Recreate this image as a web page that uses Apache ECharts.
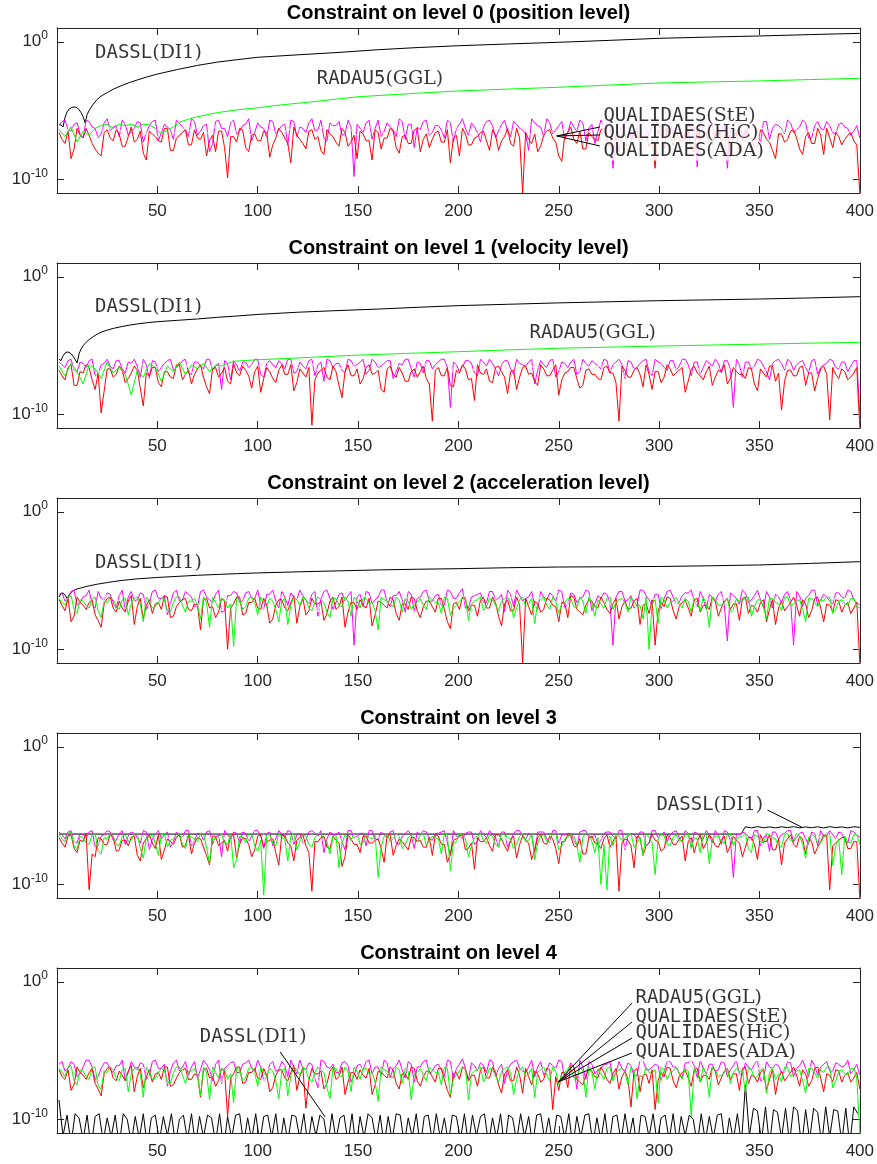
<!DOCTYPE html>
<html><head><meta charset="utf-8">
<script src="https://cdn.jsdelivr.net/npm/echarts@6/dist/echarts.min.js"></script>
<style>html,body{margin:0;padding:0;background:#fff}#c{width:877px;height:1164px}</style>
</head><body><div id="c"></div>
<script>
// ================= DATA =================
const titles = [
  'Constraint on level 0 (position level)',
  'Constraint on level 1 (velocity level)',
  'Constraint on level 2 (acceleration level)',
  'Constraint on level 3',
  'Constraint on level 4'
];
const yTickValues = [1e-10, 1];
const yMin = 1e-11, yMax = 10;
const xMin = 0, xMax = 400, xInterval = 50;

// sample positions of the noisy error curves (two interleaved sets: A = 1,4,7,...  B = 2.5,5.5,...)
const xSamples = []; for (let x = 1; x <= 400; x += 3) xSamples.push(x);
const xSamplesB = []; for (let x = 2.5; x <= 399; x += 3) xSamplesB.push(x);
// sample positions (every 2nd step) of the DASSL error on level 4
const xSamples2 = []; for (let x = 1; x <= 399; x += 2) xSamples2.push(x);

// ---- DASSL(DI1) : log10 of error ----
const dasslX = [1,2,3,4,5,6,7,8,9,10,11,12,13,14,15,16,18,20,22,25,28,32,36,40,45,50,60,70,80,90,100,120,140,160,180,200,225,250,275,300,325,350,375,400];
const p0Dassl = [-6.0,-6.05,-6.2,-5.5,-5.1,-4.9,-4.8,-4.75,-4.75,-4.8,-4.95,-5.15,-5.45,-5.9,-5.3,-5.0,-4.55,-4.2,-3.95,-3.7,-3.45,-3.2,-2.97,-2.78,-2.55,-2.35,-2.02,-1.72,-1.48,-1.3,-1.13,-0.95,-0.78,-0.58,-0.42,-0.29,-0.16,-0.04,0.1,0.25,0.34,0.42,0.52,0.61];
const p1Dassl = [-6.0,-6.1,-5.75,-5.55,-5.47,-5.5,-5.6,-5.78,-6.0,-6.27,-5.6,-5.25,-5.02,-4.85,-4.7,-4.57,-4.36,-4.18,-4.03,-3.88,-3.76,-3.63,-3.52,-3.43,-3.34,-3.27,-3.17,-3.07,-2.95,-2.85,-2.74,-2.58,-2.46,-2.35,-2.22,-2.1,-2.0,-1.9,-1.82,-1.74,-1.68,-1.62,-1.54,-1.45];
const p2Dassl = [-6.2,-5.95,-5.9,-6.05,-6.3,-6.05,-5.85,-5.75,-5.68,-5.62,-5.58,-5.54,-5.5,-5.46,-5.42,-5.39,-5.33,-5.27,-5.22,-5.15,-5.08,-5.0,-4.94,-4.88,-4.83,-4.78,-4.7,-4.62,-4.56,-4.5,-4.45,-4.37,-4.3,-4.23,-4.18,-4.14,-4.07,-4.02,-4.0,-3.98,-3.93,-3.87,-3.76,-3.63];
const p3DasslX = [1,50,100,150,200,250,300,341,342,343,346,349,352,355,358,361,364,367,370,373,376,379,382,385,388,391,394,397,400];
const p3Dassl = [-6.35,-6.35,-6.35,-6.35,-6.35,-6.35,-6.35,-6.35,-6.05,-5.82,-5.9,-5.81,-5.89,-5.83,-5.9,-5.82,-5.88,-5.81,-5.9,-5.83,-5.89,-5.82,-5.9,-5.81,-5.88,-5.83,-5.9,-5.82,-5.86];
// level 4 DASSL (tenths of a decade)
const p4Dassl = [
 -86,-112,-97,-118,-96,-99,-115,-97,-121,-98,-96,-116,-99,-113,-97,-119,-96,-100,-117,-98,
 -114,-96,-120,-99,-97,-116,-98,-112,-96,-118,-100,-97,-115,-96,-119,-98,-113,-97,-99,-117,
 -96,-121,-98,-114,-97,-96,-118,-99,-115,-96,-117,-98,-97,-113,-96,-120,-99,-116,-97,-98,
 -114,-96,-119,-98,-112,-97,-100,-118,-96,-115,-99,-97,-117,-96,-121,-98,-113,-96,-99,-116,
 -97,-119,-98,-115,-96,-97,-118,-99,-113,-96,-120,-98,-97,-116,-96,-114,-99,-117,-97,-98,
 -115,-96,-119,-97,-112,-98,-96,-118,-99,-114,-96,-121,-97,-99,-116,-96,-113,-98,-119,-97,
 -96,-115,-99,-117,-97,-98,-114,-96,-120,-98,-113,-97,-96,-118,-99,-115,-96,-119,-98,-97,
 -116,-96,-114,-99,-121,-97,-98,-113,-96,-117,-99,-97,-115,-96,-119,-98,-112,-97,-100,-118,
 -96,-116,-98,-114,-97,-96,-120,-99,-115,-96,-118,-75,-112,-92,-94,-116,-91,-119,-93,-95,
 -114,-92,-117,-91,-94,-120,-93,-115,-92,-95,-118,-91,-113,-93,-94,-117,-92,-119,-91,-96];

// ---- RADAU5(GGL) : log10 of error ----
const p0RadauX = [1,4,7,10,13,16,19,22,25,28,31,34,37,40,43,46,49,52,55,58,61,65,70,75,80,90,100,110,125,150,175,200,225,250,275,300,325,350,375,400];
const p0Radau = [-6.4,-6.9,-6.2,-7.3,-6.5,-6.8,-6.3,-6.1,-6.0,-6.3,-6.0,-6.1,-6.0,-6.2,-6.0,-6.05,-6.3,-6.7,-6.4,-6.2,-5.85,-5.65,-5.45,-5.3,-5.15,-4.95,-4.8,-4.62,-4.4,-4.0,-3.78,-3.58,-3.44,-3.31,-3.15,-3.0,-2.92,-2.85,-2.75,-2.66];
const p1RadauX = [1,4,7,10,13,16,19,22,25,28,31,34,37,40,43,46,49,52,55,58,61,64,67,70,73,76,79,82,85,88,95,100,110,121,135,150,175,200,225,250,275,300,325,350,375,400];
const p1Radau = [-6.5,-7.2,-6.3,-6.9,-7.8,-6.4,-6.7,-7.4,-6.2,-7.0,-6.6,-7.1,-8.6,-6.8,-7.3,-6.3,-6.6,-7.6,-6.5,-6.9,-6.2,-7.1,-6.4,-6.7,-6.3,-6.9,-6.4,-6.5,-6.3,-6.15,-6.08,-6.04,-5.97,-5.9,-5.8,-5.7,-5.57,-5.45,-5.32,-5.2,-5.12,-5.04,-4.97,-4.9,-4.83,-4.77];
// levels 2-4 RADAU5 (tenths of a decade), set A on xSamples, set B on xSamplesB
const p2Radau = [-63,-68,-61,-74,-65,-70,-62,-77,-66,-64,-71,-63,-67,-62,-80,-65,-69,-63,-72,-66,-62,-73,-65,-68,-62,-84,-66,-63,-70,-98,-64,-69,-62,-75,-66,-63,-71,-65,-82,-62,-68,-64,-72,-62,-66,-77,-63,-69,-65,-62,-70,-63,-66,-86,-64,-68,-62,-73,-65,-67,-63,-71,-64,-66,-62,-75,-68,-63,-79,-65,-62,-69,-64,-72,-63,-66,-70,-62,-67,-81,-64,-68,-62,-74,-66,-63,-70,-65,-62,-76,-67,-63,-71,-64,-66,-62,-69,-78,-100,-64,-62,-70,-65,-67,-63,-73,-66,-62,-84,-64,-68,-63,-71,-65,-62,-76,-64,-69,-63,-66,-72,-62,-67,-64,-80,-63,-69,-65,-62,-71,-64,-68,-63,-70];
const p2RadauB = [-66,-62,-71,-64,-68,-63,-72,-65,-62,-69,-64,-75,-63,-67,-62,-70,-66,-64,-73,-62,-68,-65,-63,-78,-66,-62,-70,-64,-67,-63,-71,-63,-66,-62,-69,-65,-80,-63,-68,-64,-62,-70,-66,-64,-73,-63,-68,-62,-76,-65,-63,-67,-72,-62,-65,-69,-64,-63,-71,-66,-68,-62,-66,-74,-63,-70,-65,-62,-67,-64,-72,-63,-68,-65,-62,-77,-64,-69,-63,-66,-62,-71,-65,-67,-63,-69,-62,-74,-66,-64,-70,-62,-66,-63,-73,-65,-68,-62,-67,-81,-64,-66,-62,-70,-65,-63,-72,-67,-62,-68,-66,-73,-63,-65,-62,-69,-64,-78,-63,-67,-62,-68,-65,-71,-63,-66,-64,-62,-74,-65,-67,-63,-69];
const p3Radau = [-64,-69,-62,-75,-66,-71,-63,-78,-67,-65,-72,-64,-68,-63,-81,-66,-70,-64,-73,-67,-63,-74,-66,-69,-63,-85,-67,-64,-71,-88,-65,-70,-63,-76,-108,-64,-72,-66,-83,-63,-69,-65,-73,-63,-67,-78,-64,-70,-66,-63,-71,-64,-67,-95,-65,-69,-63,-74,-66,-68,-64,-72,-65,-67,-63,-90,-69,-64,-80,-66,-63,-70,-65,-73,-64,-67,-71,-63,-68,-82,-65,-69,-63,-75,-67,-64,-71,-66,-63,-77,-100,-104,-72,-65,-67,-63,-70,-79,-66,-93,-63,-71,-66,-68,-64,-74,-67,-63,-85,-65,-69,-64,-72,-66,-63,-77,-65,-70,-64,-67,-73,-63,-68,-65,-81,-64,-70,-66,-63,-72,-93,-69,-64,-71];
const p3RadauB = [-67,-63,-72,-65,-70,-64,-76,-66,-63,-71,-65,-69,-63,-74,-66,-64,-79,-63,-68,-65,-71,-64,-67,-63,-73,-66,-65,-70,-63,-82,-66,-63,-72,-68,-64,-70,-63,-67,-65,-75,-64,-71,-66,-63,-69,-65,-88,-64,-68,-63,-70,-66,-64,-73,-63,-67,-65,-71,-64,-69,-63,-68,-66,-78,-64,-70,-63,-67,-72,-65,-68,-64,-71,-63,-66,-74,-65,-69,-63,-70,-64,-67,-63,-72,-66,-65,-84,-63,-69,-66,-71,-65,-63,-68,-64,-73,-66,-63,-70,-67,-65,-72,-64,-69,-63,-66,-77,-64,-68,-65,-70,-63,-67,-65,-74,-64,-69,-63,-66,-72,-64,-68,-63,-71,-66,-65,-70,-63,-86,-67,-65,-70,-64];
const p4Radau = [-63,-69,-61,-75,-65,-71,-62,-78,-66,-64,-72,-63,-67,-62,-84,-65,-70,-63,-73,-66,-62,-74,-65,-68,-62,-86,-66,-63,-71,-88,-64,-70,-62,-76,-66,-63,-72,-65,-83,-62,-68,-64,-73,-62,-66,-85,-63,-69,-65,-62,-71,-63,-66,-87,-64,-68,-62,-74,-65,-67,-63,-72,-64,-66,-62,-82,-68,-63,-86,-65,-62,-69,-64,-73,-63,-66,-71,-62,-67,-84,-64,-68,-62,-75,-66,-63,-71,-65,-62,-78,-67,-63,-72,-64,-66,-62,-85,-70,-66,-64,-62,-71,-65,-67,-63,-98,-66,-62,-84,-64,-68,-63,-66,-65,-80,-64,-69,-63,-66,-71,-73,-62,-67,-64,-81,-63,-70,-66,-62,-72,-64,-68,-63,-110];
const p4RadauB = [-66,-62,-72,-64,-69,-63,-76,-65,-62,-70,-64,-80,-63,-67,-62,-71,-66,-64,-74,-62,-68,-65,-63,-83,-66,-62,-70,-64,-67,-63,-72,-63,-66,-62,-69,-65,-85,-63,-68,-64,-62,-71,-66,-64,-77,-63,-68,-62,-80,-65,-63,-67,-73,-62,-65,-70,-64,-63,-86,-66,-68,-62,-66,-75,-63,-71,-65,-62,-67,-64,-73,-63,-68,-65,-62,-82,-64,-69,-63,-66,-62,-72,-65,-67,-63,-70,-62,-84,-66,-64,-71,-62,-66,-63,-75,-65,-68,-62,-67,-88,-64,-66,-62,-71,-65,-63,-73,-67,-62,-69,-66,-74,-63,-65,-62,-70,-64,-81,-63,-67,-62,-69,-65,-72,-63,-66,-64,-62,-77,-65,-67,-63,-70];

// ---- QUALIDAES(StE) (tenths of a decade) ----
const p0StE = [-61,-57,-65,-59,-70,-58,-63,-67,-56,-62,-69,-60,-65,-58,-73,-61,-57,-66,-62,-71,-59,-64,-56,-68,-61,-80,-58,-63,-69,-57,-65,-60,-72,-59,-63,-57,-67,-61,-75,-58,-62,-66,-56,-64,-70,-59,-61,-68,-57,-98,-63,-59,-71,-57,-65,-62,-69,-58,-60,-77,-64,-57,-66,-61,-70,-59,-63,-56,-68,-62,-73,-58,-61,-65,-57,-69,-60,-64,-79,-59,-62,-56,-67,-61,-71,-58,-65,-59,-63,-74,-57,-63,-92,-66,-58,-70,-62,-59,-68,-57,-64,-61,-67,-59,-72,-63,-91,-65,-60,-69,-66,-92,-62,-56,-69,-61,-65,-58,-71,-60,-63,-57,-66,-62,-59,-70,-58,-64,-61,-67,-59,-63,-65,-70];
const p0StEB = [-58,-64,-60,-67,-57,-62,-70,-59,-65,-61,-57,-68,-63,-59,-66,-58,-72,-60,-64,-57,-62,-69,-58,-65,-60,-74,-57,-63,-59,-67,-61,-56,-66,-62,-70,-58,-64,-60,-57,-69,-63,-59,-65,-57,-72,-61,-58,-67,-62,-60,-66,-57,-63,-69,-59,-64,-56,-71,-60,-62,-58,-68,-61,-64,-57,-73,-60,-63,-59,-66,-62,-57,-70,-60,-65,-58,-63,-67,-56,-61,-69,-59,-64,-58,-66,-62,-57,-72,-60,-65,-61,-58,-67,-63,-59,-70,-57,-64,-62,-60,-66,-58,-63,-71,-59,-62,-57,-68,-61,-64,-59,-65,-57,-69,-62,-60,-74,-58,-63,-61,-67,-59,-64,-57,-70,-61,-63,-58,-66,-60,-62,-68,-61];
const p1StE = [-62,-66,-60,-69,-63,-61,-72,-64,-60,-67,-61,-70,-63,-65,-60,-74,-62,-66,-61,-68,-64,-60,-71,-62,-67,-60,-65,-82,-63,-61,-69,-62,-64,-60,-73,-61,-66,-63,-60,-70,-62,-67,-60,-64,-76,-61,-63,-68,-60,-65,-62,-71,-60,-66,-63,-61,-69,-64,-60,-73,-63,-61,-67,-62,-60,-95,-64,-66,-61,-70,-60,-65,-63,-72,-61,-67,-60,-64,-62,-78,-61,-66,-60,-69,-63,-62,-71,-60,-65,-63,-67,-61,-64,-60,-74,-62,-66,-61,-69,-60,-63,-68,-61,-65,-60,-72,-62,-66,-63,-60,-70,-61,-95,-64,-62,-67,-60,-65,-75,-61,-63,-60,-68,-62,-66,-61,-71,-64,-60,-66,-62,-69,-61,-100];
const p1StEB = [-64,-61,-68,-62,-66,-60,-71,-63,-65,-61,-67,-62,-60,-73,-64,-61,-69,-63,-60,-66,-61,-70,-62,-65,-60,-68,-63,-61,-75,-64,-62,-66,-60,-71,-63,-64,-61,-67,-60,-69,-65,-61,-72,-62,-60,-66,-63,-70,-61,-64,-60,-68,-62,-65,-61,-74,-63,-60,-67,-62,-70,-61,-64,-60,-66,-62,-69,-61,-63,-72,-62,-60,-67,-64,-61,-71,-63,-65,-60,-68,-64,-61,-73,-62,-66,-60,-69,-63,-61,-65,-60,-70,-62,-64,-61,-67,-63,-60,-72,-62,-66,-61,-68,-60,-64,-62,-71,-61,-65,-63,-61,-67,-60,-73,-62,-65,-61,-69,-63,-60,-68,-62,-64,-61,-70,-60,-66,-63,-61,-67,-62,-65,-61];
const p2StE = [-60,-65,-58,-68,-62,-57,-70,-63,-59,-66,-61,-72,-58,-64,-60,-67,-57,-63,-75,-59,-65,-58,-62,-69,-57,-64,-60,-73,-61,-58,-66,-59,-63,-57,-71,-60,-65,-58,-68,-62,-57,-64,-60,-76,-58,-63,-66,-59,-61,-97,-60,-58,-67,-62,-57,-69,-61,-64,-58,-72,-62,-57,-65,-60,-68,-58,-63,-56,-70,-61,-59,-66,-58,-63,-73,-60,-57,-65,-62,-68,-58,-64,-61,-57,-70,-59,-66,-62,-58,-67,-63,-60,-97,-58,-65,-61,-68,-57,-64,-60,-71,-58,-62,-66,-59,-57,-69,-63,-60,-65,-58,-94,-61,-67,-59,-64,-57,-70,-62,-60,-66,-58,-97,-61,-63,-57,-68,-60,-65,-59,-62,-57,-64,-68];
const p2StEB = [-59,-63,-57,-66,-61,-68,-58,-64,-60,-70,-57,-62,-65,-59,-71,-58,-63,-61,-67,-57,-64,-60,-69,-58,-62,-66,-57,-72,-61,-59,-65,-58,-63,-68,-60,-57,-70,-62,-59,-64,-61,-67,-58,-63,-57,-71,-60,-65,-58,-62,-69,-59,-64,-57,-66,-61,-58,-73,-60,-63,-58,-65,-61,-68,-57,-63,-59,-70,-62,-60,-66,-58,-64,-60,-57,-69,-61,-63,-58,-71,-62,-59,-65,-58,-67,-60,-63,-57,-72,-61,-59,-66,-62,-58,-64,-70,-57,-61,-68,-60,-63,-57,-67,-61,-59,-65,-58,-71,-62,-60,-68,-59,-63,-57,-66,-61,-64,-58,-70,-62,-60,-65,-58,-69,-61,-57,-64,-62,-67,-59,-63,-58,-66];
const p3StE = [-62,-67,-61,-70,-64,-62,-73,-65,-61,-68,-63,-71,-62,-66,-61,-75,-64,-67,-62,-69,-65,-61,-72,-63,-68,-61,-66,-80,-64,-62,-70,-63,-65,-61,-74,-62,-67,-64,-61,-71,-63,-68,-61,-65,-77,-62,-64,-69,-61,-66,-63,-72,-61,-67,-64,-62,-70,-65,-61,-74,-64,-62,-68,-63,-61,-79,-65,-67,-62,-71,-61,-66,-64,-73,-62,-68,-61,-65,-63,-77,-62,-67,-61,-70,-64,-63,-72,-61,-66,-64,-68,-62,-65,-61,-75,-63,-67,-62,-70,-61,-64,-69,-62,-66,-61,-73,-63,-67,-64,-61,-71,-62,-95,-65,-63,-68,-61,-66,-76,-62,-64,-61,-69,-63,-67,-62,-72,-65,-61,-67,-63,-70,-62,-66];
const p3StEB = [-64,-62,-69,-63,-66,-61,-72,-64,-62,-68,-61,-65,-63,-70,-62,-67,-61,-64,-73,-62,-66,-61,-68,-63,-62,-71,-64,-61,-67,-63,-62,-69,-61,-65,-63,-72,-61,-66,-62,-64,-70,-62,-63,-61,-67,-64,-62,-75,-61,-65,-63,-61,-68,-62,-66,-61,-71,-63,-64,-62,-61,-67,-63,-62,-70,-61,-65,-63,-62,-69,-64,-61,-66,-62,-73,-63,-61,-67,-64,-62,-62,-70,-61,-64,-63,-68,-62,-61,-66,-71,-63,-62,-67,-61,-65,-64,-62,-72,-61,-66,-62,-64,-61,-69,-63,-62,-66,-61,-70,-64,-61,-68,-63,-62,-65,-61,-72,-64,-62,-67,-63,-61,-66,-62,-71,-63,-61,-65,-64,-62,-68,-61,-64];
const p4StE = [-60,-65,-58,-69,-62,-57,-71,-63,-59,-66,-61,-72,-58,-64,-60,-68,-57,-63,-76,-59,-65,-58,-62,-70,-57,-64,-60,-74,-61,-58,-66,-59,-63,-57,-72,-60,-65,-58,-69,-62,-57,-64,-60,-77,-58,-63,-66,-59,-61,-68,-60,-58,-67,-62,-57,-70,-61,-64,-58,-73,-62,-57,-65,-60,-69,-58,-63,-56,-71,-61,-59,-66,-58,-63,-74,-60,-57,-65,-62,-69,-58,-64,-61,-57,-71,-59,-78,-62,-58,-67,-63,-60,-70,-58,-65,-61,-68,-57,-64,-60,-72,-58,-62,-66,-59,-57,-70,-63,-60,-65,-58,-69,-61,-67,-59,-64,-57,-71,-62,-60,-66,-58,-69,-61,-63,-57,-68,-60,-65,-59,-62,-57,-64,-68];
const p4StEB = [-58,-63,-60,-67,-57,-62,-69,-59,-64,-61,-57,-66,-62,-59,-71,-58,-63,-60,-65,-57,-62,-68,-58,-64,-60,-72,-57,-63,-59,-66,-60,-57,-65,-62,-69,-58,-64,-61,-57,-67,-63,-59,-70,-57,-62,-60,-66,-58,-73,-61,-64,-57,-62,-68,-59,-63,-57,-70,-60,-62,-58,-67,-61,-64,-57,-71,-60,-63,-59,-65,-61,-57,-69,-60,-64,-58,-63,-66,-57,-62,-68,-59,-63,-58,-65,-62,-57,-71,-60,-64,-60,-58,-66,-63,-59,-69,-57,-64,-62,-61,-65,-58,-62,-70,-59,-61,-57,-67,-60,-64,-59,-64,-57,-68,-62,-60,-72,-58,-63,-61,-66,-59,-63,-57,-69,-61,-62,-58,-65,-60,-61,-67,-60];

// ---- QUALIDAES(HiC) (tenths of a decade), on xSamples ----
const p0HiC = [-64,-68,-61,-70,-66,-63,-72,-65,-60,-67,-63,-71,-66,-62,-69,-64,-74,-61,-67,-65,-70,-62,-66,-73,-63,-68,-61,-65,-71,-64,-67,-62,-69,-65,-76,-63,-66,-70,-62,-68,-64,-71,-63,-67,-61,-69,-65,-73,-62,-66,-70,-64,-62,-68,-66,-63,-72,-65,-69,-61,-67,-63,-70,-64,-66,-74,-62,-68,-65,-71,-63,-69,-66,-61,-70,-64,-67,-62,-68,-65,-72,-63,-66,-69,-62,-67,-64,-71,-65,-63,-68,-62,-70,-65,-67,-63,-69,-64,-66,-72,-62,-67,-65,-70,-63,-68,-64,-66,-71,-62,-69,-65,-63,-67,-72,-64,-68,-62,-66,-70,-64,-68,-63,-71,-65,-67,-62,-69,-66,-64,-70,-65,-67,-110];
const p1HiC = [-65,-69,-63,-71,-66,-64,-73,-67,-62,-70,-66,-72,-64,-68,-63,-75,-65,-69,-64,-71,-67,-63,-70,-65,-74,-64,-68,-62,-71,-66,-69,-64,-72,-66,-63,-70,-67,-73,-64,-68,-65,-71,-63,-69,-66,-74,-64,-67,-72,-63,-70,-65,-68,-64,-73,-66,-62,-71,-67,-65,-69,-63,-72,-66,-68,-64,-75,-65,-70,-67,-63,-71,-66,-69,-64,-72,-67,-65,-70,-63,-68,-74,-64,-67,-71,-65,-69,-63,-72,-66,-65,-70,-67,-63,-73,-66,-68,-64,-71,-69,-64,-72,-66,-68,-63,-70,-65,-74,-67,-64,-71,-66,-69,-63,-72,-65,-68,-70,-64,-67,-69,-64,-73,-66,-65,-71,-63,-68,-70,-65,-67,-72,-64,-105];
const p2HiC = [-63,-67,-61,-70,-65,-62,-72,-66,-60,-68,-64,-71,-62,-67,-63,-69,-61,-66,-73,-63,-68,-62,-65,-70,-61,-67,-64,-72,-63,-66,-69,-62,-66,-64,-71,-63,-67,-61,-70,-65,-62,-68,-64,-73,-61,-66,-69,-63,-65,-70,-63,-61,-68,-65,-62,-71,-64,-67,-62,-74,-65,-61,-69,-63,-70,-62,-66,-60,-72,-64,-62,-68,-61,-66,-74,-63,-60,-67,-65,-70,-61,-67,-64,-60,-71,-62,-68,-65,-61,-69,-66,-63,-70,-61,-67,-64,-71,-62,-66,-63,-72,-61,-65,-68,-62,-60,-70,-66,-63,-67,-61,-69,-64,-68,-62,-66,-60,-72,-65,-63,-68,-61,-70,-64,-66,-60,-71,-63,-67,-62,-65,-61,-66,-110];
const p3HiC = [-66,-70,-64,-72,-67,-65,-74,-68,-64,-71,-67,-73,-65,-69,-64,-76,-66,-70,-65,-72,-68,-64,-71,-66,-75,-65,-69,-64,-72,-67,-70,-65,-73,-67,-64,-71,-68,-74,-65,-69,-66,-72,-64,-70,-67,-75,-65,-68,-73,-64,-71,-66,-69,-65,-74,-67,-64,-72,-68,-66,-70,-64,-73,-67,-69,-65,-76,-66,-71,-68,-64,-72,-67,-70,-65,-73,-68,-66,-71,-64,-69,-75,-65,-68,-72,-66,-70,-64,-73,-67,-66,-71,-68,-64,-74,-67,-69,-65,-72,-70,-65,-73,-67,-69,-64,-71,-66,-75,-68,-65,-72,-67,-70,-64,-73,-66,-69,-71,-65,-68,-70,-65,-74,-67,-66,-72,-64,-69,-71,-66,-68,-73,-65,-110];
const p4HiC = [-64,-68,-62,-71,-66,-63,-73,-67,-61,-69,-65,-72,-63,-68,-62,-70,-64,-67,-74,-63,-69,-62,-66,-71,-63,-68,-65,-73,-62,-67,-70,-63,-67,-64,-72,-62,-68,-61,-71,-66,-63,-69,-65,-74,-62,-67,-70,-64,-66,-71,-64,-62,-69,-66,-63,-72,-65,-68,-63,-75,-66,-62,-70,-64,-71,-63,-67,-61,-73,-65,-63,-69,-62,-67,-75,-64,-61,-68,-66,-71,-62,-68,-65,-61,-72,-63,-69,-66,-62,-70,-67,-64,-71,-62,-68,-65,-72,-63,-67,-64,-73,-62,-66,-69,-63,-61,-71,-67,-64,-68,-62,-70,-65,-69,-63,-67,-61,-73,-66,-64,-69,-62,-71,-65,-67,-61,-72,-64,-68,-63,-66,-62,-67,-70];

// ---- QUALIDAES(ADA) (tenths of a decade) ----
const p0ADA = [-66,-74,-85,-63,-70,-68,-78,-83,-64,-72,-67,-76,-62,-71,-81,-65,-69,-73,-63,-79,-68,-64,-75,-70,-66,-72,-80,-65,-99,-69,-63,-77,-68,-72,-65,-84,-70,-66,-74,-62,-71,-78,-64,-69,-82,-67,-73,-63,-76,-68,-65,-72,-86,-66,-70,-63,-77,-69,-74,-64,-80,-67,-71,-65,-73,-88,-68,-63,-75,-70,-66,-72,-64,-79,-69,-74,-63,-110,-71,-67,-76,-65,-70,-83,-68,-62,-74,-78,-66,-71,-64,-73,-69,-80,-67,-72,-65,-70,-76,-92,-68,-63,-75,-71,-66,-78,-64,-70,-73,-67,-72,-65,-69,-81,-64,-70,-76,-66,-73,-85,-67,-71,-64,-78,-69,-74,-63,-82,-70,-66,-75,-68,-72,-110];
const p0ADAB = [-71,-65,-78,-68,-63,-74,-81,-66,-70,-64,-76,-69,-73,-65,-86,-67,-72,-63,-79,-70,-66,-75,-64,-71,-83,-68,-65,-77,-69,-73,-64,-80,-67,-72,-66,-75,-63,-70,-88,-68,-74,-65,-71,-79,-64,-69,-76,-66,-73,-85,-67,-72,-64,-78,-70,-65,-81,-68,-74,-63,-71,-77,-66,-73,-64,-70,-83,-67,-75,-69,-65,-79,-68,-72,-63,-76,-70,-66,-74,-80,-68,-64,-73,-87,-66,-71,-65,-78,-69,-72,-63,-76,-70,-67,-82,-65,-74,-68,-71,-64,-78,-69,-66,-73,-65,-80,-71,-67,-75,-64,-70,-84,-66,-72,-68,-77,-64,-71,-79,-67,-73,-65,-70,-82,-66,-74,-68,-63,-77,-69,-71,-66,-75];
const p1ADA = [-68,-75,-64,-79,-70,-66,-82,-99,-67,-73,-65,-77,-70,-68,-94,-72,-66,-80,-69,-74,-64,-71,-78,-67,-73,-85,-66,-70,-76,-63,-72,-68,-81,-65,-74,-69,-77,-64,-71,-83,-67,-73,-108,-70,-66,-75,-69,-88,-64,-72,-78,-66,-71,-68,-84,-65,-73,-70,-76,-67,-69,-74,-105,-66,-72,-79,-68,-64,-75,-90,-70,-67,-77,-65,-73,-69,-82,-66,-71,-76,-64,-72,-68,-86,-70,-66,-74,-79,-67,-71,-75,-65,-70,-105,-68,-73,-66,-80,-71,-69,-77,-64,-72,-68,-84,-67,-70,-75,-65,-73,-69,-78,-66,-71,-74,-67,-83,-70,-65,-76,-97,-68,-72,-66,-79,-70,-74,-65,-104,-71,-67,-75,-70,-110];
const p1ADAB = [-72,-66,-79,-69,-64,-75,-70,-83,-67,-71,-68,-74,-65,-81,-70,-66,-77,-69,-73,-64,-75,-68,-71,-64,-80,-67,-73,-66,-78,-70,-65,-72,-69,-84,-66,-74,-68,-71,-64,-77,-70,-66,-75,-68,-73,-65,-79,-69,-72,-67,-74,-64,-70,-82,-67,-71,-66,-76,-69,-73,-65,-78,-68,-72,-66,-80,-70,-67,-74,-64,-71,-76,-66,-69,-85,-68,-73,-65,-70,-79,-67,-72,-64,-75,-69,-66,-81,-68,-71,-74,-66,-70,-77,-65,-73,-68,-71,-64,-82,-69,-73,-67,-70,-66,-76,-65,-72,-69,-79,-68,-64,-74,-69,-71,-66,-78,-67,-73,-65,-70,-76,-68,-72,-65,-70,-83,-67,-71,-66,-74,-69,-73,-66];
const p2ADA = [-64,-72,-80,-62,-68,-66,-75,-84,-63,-70,-65,-73,-61,-69,-78,-64,-67,-71,-62,-76,-66,-63,-72,-68,-64,-70,-77,-63,-100,-67,-62,-74,-66,-70,-63,-81,-68,-64,-72,-61,-69,-75,-63,-67,-79,-65,-71,-62,-73,-66,-64,-70,-83,-65,-68,-62,-74,-67,-71,-63,-77,-65,-69,-63,-71,-85,-66,-62,-72,-68,-64,-70,-62,-76,-67,-72,-62,-110,-69,-65,-73,-63,-68,-80,-66,-61,-71,-75,-64,-69,-62,-71,-67,-78,-65,-70,-63,-68,-74,-97,-66,-62,-72,-69,-64,-76,-63,-68,-71,-65,-70,-63,-67,-79,-62,-68,-73,-64,-71,-82,-65,-69,-62,-76,-67,-72,-62,-80,-68,-64,-73,-66,-70,-110];
const p2ADAB = [-68,-63,-76,-66,-71,-64,-79,-67,-62,-73,-70,-65,-82,-63,-68,-74,-66,-61,-77,-69,-64,-71,-67,-86,-63,-69,-73,-65,-70,-62,-75,-66,-63,-71,-68,-78,-64,-70,-66,-81,-63,-72,-67,-65,-74,-62,-69,-84,-66,-71,-68,-63,-75,-66,-70,-64,-79,-67,-62,-72,-69,-65,-73,-63,-80,-67,-71,-64,-68,-76,-62,-70,-66,-83,-64,-72,-68,-63,-75,-67,-71,-64,-69,-66,-77,-62,-73,-68,-65,-70,-66,-74,-63,-69,-71,-65,-82,-67,-64,-72,-69,-63,-78,-66,-70,-64,-73,-68,-62,-76,-65,-71,-67,-63,-74,-69,-66,-80,-64,-70,-72,-66,-68,-64,-77,-63,-70,-67,-73,-65,-68,-74,-66];
const p3ADA = [-66,-73,-64,-77,-69,-104,-80,-67,-71,-65,-75,-68,-66,-79,-70,-64,-74,-82,-67,-71,-64,-72,-78,-66,-73,-86,-65,-70,-76,-64,-71,-67,-80,-65,-73,-68,-77,-64,-70,-83,-66,-72,-105,-69,-65,-74,-68,-87,-64,-71,-77,-65,-70,-67,-84,-64,-72,-69,-75,-66,-68,-73,-79,-65,-71,-78,-67,-64,-74,-89,-69,-66,-76,-64,-72,-68,-81,-65,-70,-75,-64,-71,-67,-85,-69,-65,-73,-78,-66,-70,-74,-64,-69,-105,-67,-72,-65,-79,-70,-68,-76,-64,-71,-67,-83,-66,-69,-74,-64,-72,-68,-77,-65,-70,-73,-66,-82,-69,-64,-75,-86,-67,-71,-65,-78,-69,-73,-64,-104,-70,-66,-74,-69,-110];
const p3ADAB = [-70,-65,-74,-68,-63,-78,-66,-71,-64,-76,-68,-72,-65,-83,-67,-70,-64,-75,-69,-66,-73,-64,-70,-67,-79,-65,-72,-68,-64,-81,-66,-71,-75,-64,-69,-67,-86,-65,-72,-68,-64,-77,-69,-66,-73,-65,-70,-80,-67,-71,-65,-70,-68,-74,-64,-79,-67,-72,-66,-69,-73,-66,-64,-71,-84,-68,-65,-75,-70,-66,-69,-72,-64,-67,-76,-65,-71,-68,-82,-66,-70,-65,-74,-69,-64,-72,-67,-78,-65,-71,-67,-73,-65,-70,-68,-88,-66,-72,-64,-69,-74,-66,-71,-65,-69,-77,-64,-70,-67,-73,-65,-72,-68,-80,-66,-71,-64,-69,-75,-67,-70,-64,-73,-67,-66,-78,-69,-65,-72,-68,-66,-74,-69];
const p4ADA = [-64,-71,-79,-62,-68,-66,-74,-83,-63,-70,-65,-72,-61,-69,-77,-64,-67,-71,-62,-75,-66,-63,-71,-68,-64,-70,-76,-63,-98,-67,-62,-73,-66,-70,-63,-80,-68,-64,-72,-61,-69,-92,-63,-67,-78,-65,-71,-62,-73,-66,-64,-70,-82,-65,-68,-62,-74,-67,-71,-63,-76,-65,-69,-63,-71,-84,-66,-62,-72,-68,-64,-70,-62,-75,-67,-72,-62,-81,-69,-65,-73,-63,-93,-79,-66,-61,-71,-75,-64,-69,-62,-71,-67,-78,-65,-91,-63,-68,-74,-93,-66,-62,-72,-69,-64,-76,-63,-68,-71,-65,-70,-63,-67,-79,-62,-68,-73,-64,-71,-82,-65,-69,-62,-76,-67,-72,-62,-80,-68,-64,-73,-66,-70,-78];
const p4ADAB = [-69,-64,-75,-66,-71,-63,-78,-67,-62,-72,-68,-65,-80,-63,-69,-73,-66,-62,-76,-70,-64,-71,-67,-84,-63,-69,-72,-65,-70,-62,-74,-66,-63,-71,-68,-77,-64,-70,-66,-79,-63,-72,-67,-65,-74,-62,-69,-82,-66,-71,-68,-63,-75,-66,-70,-64,-78,-67,-62,-72,-69,-65,-73,-63,-79,-67,-71,-64,-68,-76,-62,-70,-66,-81,-64,-72,-68,-63,-75,-67,-71,-64,-69,-66,-77,-62,-73,-68,-65,-70,-66,-74,-63,-69,-71,-65,-80,-67,-64,-72,-69,-63,-77,-66,-70,-64,-73,-68,-62,-75,-65,-71,-67,-63,-74,-69,-66,-79,-64,-70,-72,-66,-68,-64,-76,-63,-70,-67,-73,-65,-68,-73,-66];

// ---- annotation texts (typewriter part, roman part) ----
const annDassl = ['DASSL', '(DI1)'];
const annRadau = ['RADAU5', '(GGL)'];
const annStE = ['QUALIDAES', '(StE)'];
const annHiC = ['QUALIDAES', '(HiC)'];
const annADA = ['QUALIDAES', '(ADA)'];

// ================= BUILD =================
const AX = '#262626';
const COL = { dassl: '#000000', ste: '#ff00ff', hic: '#e6e6e6', ada: '#ff0000', radau: '#00ff00' };
const GRID_LEFT = 57, GRID_W = 803, GRID_H = 165, GRID_TOP0 = 28, GRID_STEP = 235;
const pow = (e) => Math.pow(10, e);
const ptsD = (xs, es) => xs.map((x, i) => [x, pow(es[i])]);        // decimal exponents
const ptsT = (xs, es) => xs.map((x, i) => [x, pow(es[i] / 10)]);   // tenths of decades
const merge = (a, b) => a.concat(b).sort((p, q) => p[0] - q[0]);
const two = (ea, eb) => merge(ptsT(xSamples, ea), ptsT(xSamplesB, eb));
const A = (t, x, e) => ({ t, x, e });

const panels = [
  { dassl: ptsD(dasslX, p0Dassl), radau: ptsD(p0RadauX, p0Radau),
    ste: two(p0StE, p0StEB), hic: ptsT(xSamples, p0HiC), ada: two(p0ADA, p0ADAB),
    labels: [A(annDassl, 18.2, -0.82), A(annRadau, 128.7, -2.71), A(annStE, 271.5, -5.4), A(annHiC, 271.5, -6.67), A(annADA, 271.5, -7.95)],
    leaders: [[[249, -6.85], [270.5, -6.2]], [[249, -6.85], [270.5, -6.78]], [[249, -6.85], [270.5, -7.58]]] },
  { dassl: ptsD(dasslX, p1Dassl), radau: ptsD(p1RadauX, p1Radau),
    ste: two(p1StE, p1StEB), hic: ptsT(xSamples, p1HiC), ada: two(p1ADA, p1ADAB),
    labels: [A(annDassl, 18.2, -2.18), A(annRadau, 234.7, -4.09)], leaders: [] },
  { dassl: ptsD(dasslX, p2Dassl), radau: two(p2Radau, p2RadauB),
    ste: two(p2StE, p2StEB), hic: ptsT(xSamples, p2HiC), ada: two(p2ADA, p2ADAB),
    labels: [A(annDassl, 18.2, -3.75)], leaders: [] },
  { dassl: ptsD(p3DasslX, p3Dassl), radau: two(p3Radau, p3RadauB),
    ste: two(p3StE, p3StEB), hic: ptsT(xSamples, p3HiC), ada: two(p3ADA, p3ADAB),
    labels: [A(annDassl, 297.9, -4.24)], leaders: [[[354, -4.6], [371, -5.84]]] },
  { dassl: ptsT(xSamples2, p4Dassl), radau: two(p4Radau, p4RadauB),
    ste: two(p4StE, p4StEB), hic: ptsT(xSamples, p4HiC), ada: two(p4ADA, p4ADAB),
    labels: [A(annDassl, 70.4, -4.0), A(annRadau, 287.5, -1.18), A(annStE, 287.5, -2.56), A(annHiC, 287.5, -3.73), A(annADA, 287.5, -5.11)],
    leaders: [[[111.2, -5.1], [133.6, -9.84]], [[249.6, -7.29], [286.5, -1.55]], [[249.6, -7.29], [286.5, -2.93]], [[249.6, -7.29], [286.5, -4.09]], [[249.6, -7.29], [286.5, -5.18]]] }
];

const FONT = 'Liberation Sans, Arial, Helvetica, sans-serif';
const annRich = {
  m: { fontFamily: 'DejaVu Sans Mono, Liberation Mono, monospace', fontSize: 19, color: '#000' },
  s: { fontFamily: 'DejaVu Serif, Liberation Serif, serif', fontSize: 19, color: '#000' }
};
const yRich = {
  b: { fontFamily: FONT, fontSize: 17, color: AX, lineHeight: 24 },
  s: { fontFamily: FONT, fontSize: 12, color: AX, lineHeight: 13, verticalAlign: 'top' }
};

const grid = [], xAxis = [], yAxis = [], series = [], title = [];
panels.forEach((p, i) => {
  const top = GRID_TOP0 + GRID_STEP * i;
  grid.push({ left: GRID_LEFT, top, width: GRID_W, height: GRID_H, containLabel: false });
  title.push({ text: titles[i], left: GRID_LEFT + GRID_W / 2, top: top - 25, textAlign: 'center', padding: 0,
    textStyle: { fontFamily: FONT, fontWeight: 'bold', fontSize: 20, color: '#000' } });
  const line = { show: true, onZero: false, lineStyle: { color: AX, width: 1 } };
  const tick = { show: true, inside: true, length: 7, lineStyle: { color: AX, width: 1 } };
  xAxis.push({ type: 'value', gridIndex: i, min: xMin, max: xMax, interval: xInterval, position: 'bottom',
    axisLine: line, axisTick: tick, splitLine: { show: false },
    axisLabel: { margin: 10, color: AX, fontSize: 17, fontFamily: FONT, formatter: v => v === 0 ? '' : String(v) } });
  xAxis.push({ type: 'value', gridIndex: i, min: xMin, max: xMax, interval: xInterval, position: 'top',
    axisLine: line, axisTick: tick, splitLine: { show: false }, axisLabel: { show: false } });
  yAxis.push({ type: 'log', logBase: 10, gridIndex: i, min: yMin, max: yMax, position: 'left',
    axisLine: line, axisTick: Object.assign({ customValues: yTickValues }, tick), splitLine: { show: false },
    minorTick: { show: false },
    axisLabel: { customValues: yTickValues, margin: 9, color: AX, rich: yRich,
      formatter: v => '{b|10}{s|' + Math.round(Math.log10(v)) + '}' } });
  yAxis.push({ type: 'log', logBase: 10, gridIndex: i, min: yMin, max: yMax, position: 'right',
    axisLine: line, axisTick: Object.assign({ customValues: yTickValues }, tick), splitLine: { show: false },
    minorTick: { show: false }, axisLabel: { show: false } });

  const mk = (data, color, z) => ({ type: 'line', xAxisIndex: 2 * i, yAxisIndex: 2 * i, data, symbol: 'none',
    showSymbol: false, silent: true, animation: false, clip: true, z: z || 2,
    lineStyle: { width: 1, color }, itemStyle: { color } });
  series.push(mk(p.dassl, COL.dassl));
  series.push(mk(p.ste, COL.ste));
  series.push(mk(p.hic, COL.hic));
  series.push(mk(p.ada, COL.ada));
  series.push(mk(p.radau, COL.radau));
  p.leaders.forEach(seg => series.push(mk(seg.map(q => [q[0], pow(q[1])]), '#000', 8)));
  series.push({ type: 'scatter', xAxisIndex: 2 * i, yAxisIndex: 2 * i, z: 10, silent: true, animation: false,
    symbolSize: 1, itemStyle: { color: 'rgba(0,0,0,0)' },
    data: p.labels.map(l => ({ value: [l.x, pow(l.e)],
      label: { show: true, position: 'right', distance: 0, backgroundColor: '#fff', padding: [0, 1],
        formatter: '{m|' + l.t[0] + '}{s|' + l.t[1] + '}', rich: annRich } })) });
});

const chart = echarts.init(document.getElementById('c'), null, { renderer: 'canvas' });
chart.setOption({ animation: false, backgroundColor: '#fff', title, grid, xAxis, yAxis, series });
</script>
</body></html>
